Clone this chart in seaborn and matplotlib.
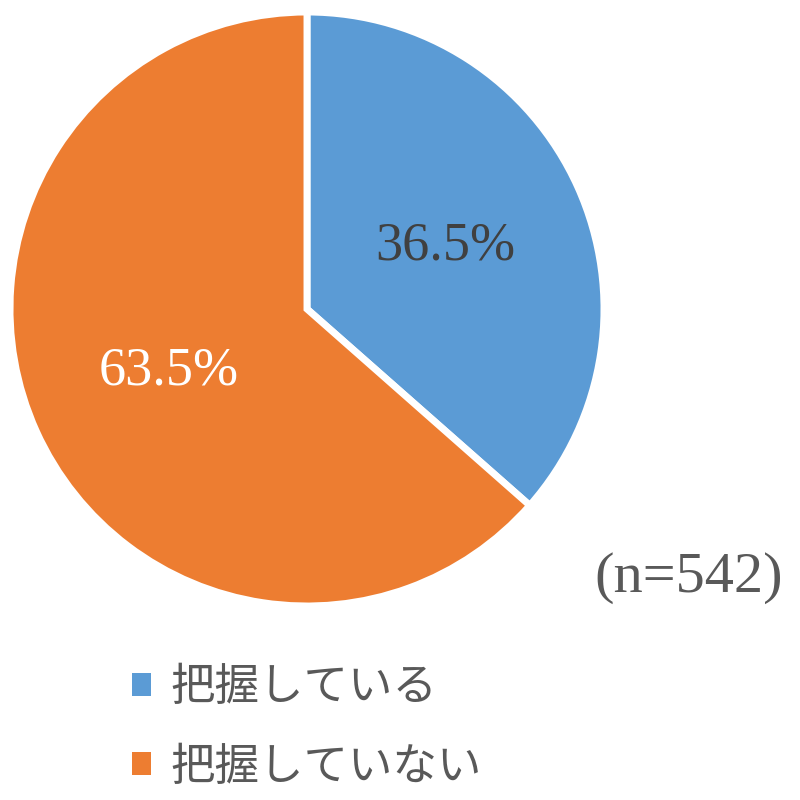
import matplotlib
matplotlib.use("Agg")
import matplotlib.pyplot as plt
from matplotlib.patches import Patch
import seaborn as sns

# data
labels = ["把握している", "把握していない"]
shares = [36.5, 63.5]
colors = ["#5B9BD5", "#ED7D31"]
pct_colors = ["#404040", "white"]
n_total = 542

sns.set_theme(style="white")
plt.rcParams["font.family"] = ["Liberation Serif", "Noto Sans CJK JP", "DejaVu Sans"]

fig = plt.figure(figsize=(8, 8), dpi=100)
ax = fig.add_axes([0, 0, 1, 1])

wedges, texts, autotexts = ax.pie(
    shares,
    colors=colors,
    startangle=90,
    counterclock=False,
    center=(307, 491),
    radius=297,
    autopct="%.1f%%",
    pctdistance=0.51,
    wedgeprops=dict(edgecolor="white", linewidth=5),
    textprops=dict(fontsize=39, family=["Liberation Serif"]),
)
for t, c in zip(autotexts, pct_colors):
    t.set_color(c)

ax.set_xlim(0, 800)
ax.set_ylim(0, 800)
ax.set_aspect("equal")
ax.axis("off")

ax.text(689, 800 - 578, f"(n={n_total})", ha="center", va="center",
        fontsize=42, color="#595959", family=["Liberation Serif"])

handles = [Patch(facecolor=c, edgecolor="none") for c in colors]
ax.legend(handles, labels, loc="center left",
          bbox_to_anchor=(110 / 800, 1 - 727 / 800), bbox_transform=fig.transFigure,
          frameon=False, borderpad=0, handlelength=0.42, handleheight=0.42,
          handletextpad=0.43, labelspacing=0.75, labelcolor="#595959",
          prop=dict(family=["Noto Sans CJK JP"], size=32))

fig.savefig("out.png", dpi=100)
